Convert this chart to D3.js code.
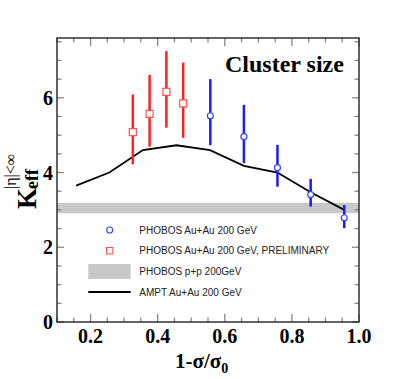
<!DOCTYPE html>
<html>
<head>
<meta charset="utf-8">
<script src="https://cdn.jsdelivr.net/npm/d3@7"></script>
<style>
  body { margin: 0; background: #fff; }
  svg { display: block; }
</style>
</head>
<body>
<script>
// PHOBOS Au+Au 200 GeV
var auX  = [0.557, 0.657, 0.757, 0.856, 0.956];
var auY  = [5.52, 4.96, 4.13, 3.41, 2.79];
var auLo = [4.73, 4.25, 3.62, 3.09, 2.51];
var auHi = [6.50, 5.81, 4.74, 3.83, 3.13];

// PHOBOS Au+Au preliminary
var prX  = [0.326, 0.376, 0.426, 0.476];
var prY  = [5.08, 5.57, 6.16, 5.85];
var prLo = [4.22, 4.69, 5.20, 4.93];
var prHi = [6.09, 6.61, 7.25, 6.94];

// AMPT
var amptX = [0.157, 0.256, 0.356, 0.456, 0.556, 0.657, 0.757, 0.856, 0.956];
var amptY = [3.65, 4.00, 4.60, 4.73, 4.60, 4.18, 4.00, 3.47, 3.00];

// p+p band
var ppVal = 3.05, ppErr = 0.14;

var xTicks = [0.2, 0.4, 0.6, 0.8, 1.0];
var yTicks = [0, 2, 4, 6];
var legendLabels = ["PHOBOS Au+Au 200 GeV", "PHOBOS Au+Au 200 GeV, PRELIMINARY",
                    "PHOBOS p+p 200GeV", "AMPT Au+Au 200 GeV"];

var W = 399, H = 379;
var serif = "'Liberation Serif', 'Times New Roman', serif";

var svg = d3.select("body").append("svg")
    .attr("width", W).attr("height", H);

var x = d3.scaleLinear().domain([0.1, 1.0]).range([57, 359]);
var y = d3.scaleLinear().domain([0, 7.6]).range([322, 38]);

// p+p band
svg.append("rect")
    .attr("x", x(0.1)).attr("width", x(1.0) - x(0.1))
    .attr("y", y(ppVal + ppErr)).attr("height", y(ppVal - ppErr) - y(ppVal + ppErr))
    .attr("fill", "#c8c8c8");

// ticks (inward, on all four sides)
var minorX = d3.range(0.1, 1.0001, 0.05);
var minorY = d3.range(0, 7.6, 0.5);
var tickG = svg.append("g").attr("stroke", "#888").attr("stroke-width", 1.3);
minorX.forEach(function(v) {
    var major = xTicks.some(function(t){ return Math.abs(t - v) < 1e-6; });
    var len = major ? 8 : 4.5;
    tickG.append("line").attr("x1", x(v)).attr("x2", x(v)).attr("y1", y(0)).attr("y2", y(0) - len);
    tickG.append("line").attr("x1", x(v)).attr("x2", x(v)).attr("y1", y(7.6)).attr("y2", y(7.6) + len);
});
minorY.forEach(function(v) {
    var major = yTicks.indexOf(v) >= 0;
    var len = major ? 7 : 4.5;
    tickG.append("line").attr("x1", x(0.1)).attr("x2", x(0.1) + len).attr("y1", y(v)).attr("y2", y(v));
    tickG.append("line").attr("x1", x(1.0)).attr("x2", x(1.0) - len).attr("y1", y(v)).attr("y2", y(v));
});

// frame
svg.append("rect")
    .attr("x", x(0.1)).attr("y", y(7.6))
    .attr("width", x(1.0) - x(0.1)).attr("height", y(0) - y(7.6))
    .attr("fill", "none").attr("stroke", "#222").attr("stroke-width", 1.4);

// tick labels
svg.selectAll(".xl").data(xTicks).enter().append("text")
    .attr("x", function(d){ return x(d); }).attr("y", 343)
    .attr("text-anchor", "middle")
    .attr("font-family", serif).attr("font-weight", "bold").attr("font-size", 20)
    .text(function(d){ return d3.format(".1f")(d); });

svg.selectAll(".yl").data(yTicks).enter().append("text")
    .attr("x", 53).attr("y", function(d){ return y(d) + 7; })
    .attr("text-anchor", "end")
    .attr("font-family", serif).attr("font-weight", "bold").attr("font-size", 20)
    .text(function(d){ return d; });

// AMPT curve
var line = d3.line().x(function(d){ return x(d[0]); }).y(function(d){ return y(d[1]); });
svg.append("path")
    .datum(d3.zip(amptX, amptY))
    .attr("d", line)
    .attr("fill", "none").attr("stroke", "#000").attr("stroke-width", 1.8);

// preliminary points
var pr = d3.range(prX.length);
svg.selectAll(".prbar").data(pr).enter().append("line")
    .attr("x1", function(i){ return x(prX[i]); }).attr("x2", function(i){ return x(prX[i]); })
    .attr("y1", function(i){ return y(prLo[i]); }).attr("y2", function(i){ return y(prHi[i]); })
    .attr("stroke", "#ff2020").attr("stroke-width", 2.5);
svg.selectAll(".prpt").data(pr).enter().append("rect")
    .attr("x", function(i){ return x(prX[i]) - 3.5; }).attr("y", function(i){ return y(prY[i]) - 3.5; })
    .attr("width", 7).attr("height", 7)
    .attr("fill", "#fff").attr("stroke", "#ff5050").attr("stroke-width", 1.2);

// Au+Au points
var au = d3.range(auX.length);
svg.selectAll(".aubar").data(au).enter().append("line")
    .attr("x1", function(i){ return x(auX[i]); }).attr("x2", function(i){ return x(auX[i]); })
    .attr("y1", function(i){ return y(auLo[i]); }).attr("y2", function(i){ return y(auHi[i]); })
    .attr("stroke", "#1a1aff").attr("stroke-width", 2.5);
svg.selectAll(".aupt").data(au).enter().append("circle")
    .attr("cx", function(i){ return x(auX[i]); }).attr("cy", function(i){ return y(auY[i]); })
    .attr("r", 3)
    .attr("fill", "#fff").attr("stroke", "#3344ff").attr("stroke-width", 1.2);

// title
svg.append("text")
    .attr("x", 225).attr("y", 72)
    .attr("font-family", serif).attr("font-weight", "bold").attr("font-size", 24)
    .text("Cluster size");

// legend
var lg = svg.append("g");
var rowY = [230, 250.7, 271.5, 292];
lg.append("circle").attr("cx", 109.7).attr("cy", rowY[0]).attr("r", 3)
    .attr("fill", "none").attr("stroke", "#3344ff").attr("stroke-width", 1.1);
lg.append("rect").attr("x", 106.5).attr("y", rowY[1] - 3.2).attr("width", 6.4).attr("height", 6.4)
    .attr("fill", "none").attr("stroke", "#ff5050").attr("stroke-width", 1.1);
lg.append("rect").attr("x", 88.3).attr("y", rowY[2] - 7.5).attr("width", 42.4).attr("height", 15)
    .attr("fill", "#c8c8c8");
lg.append("line").attr("x1", 88.3).attr("x2", 130.7).attr("y1", rowY[3]).attr("y2", rowY[3])
    .attr("stroke", "#000").attr("stroke-width", 1.8);
lg.selectAll("text").data(legendLabels).enter().append("text")
    .attr("x", 139.3).attr("y", function(d, i){ return rowY[i] + 3.6; })
    .attr("font-family", "'Liberation Sans', Arial, sans-serif").attr("font-size", 10)
    .attr("fill", "#222")
    .text(function(d){ return d; });

// x axis title
var xt = svg.append("text")
    .attr("x", 175).attr("y", 368)
    .attr("font-family", serif).attr("font-weight", "bold").attr("font-size", 21);
xt.append("tspan").text("1-\u03c3/\u03c3");
xt.append("tspan").attr("dy", 5).attr("font-size", 14).text("0");

// y axis title
var yt = svg.append("g").attr("transform", "translate(36,209) rotate(-90)");
yt.append("text").attr("x", 0).attr("y", 0)
    .attr("font-family", serif).attr("font-weight", "bold").attr("font-size", 27)
    .text("K");
yt.append("text").attr("x", 20).attr("y", 2)
    .attr("font-family", serif).attr("font-weight", "bold").attr("font-size", 18)
    .text("eff");
yt.append("text").attr("x", 20).attr("y", -20)
    .attr("font-family", serif).attr("font-size", 16)
    .text("|\u03b7|<\u221e");
</script>
</body>
</html>
